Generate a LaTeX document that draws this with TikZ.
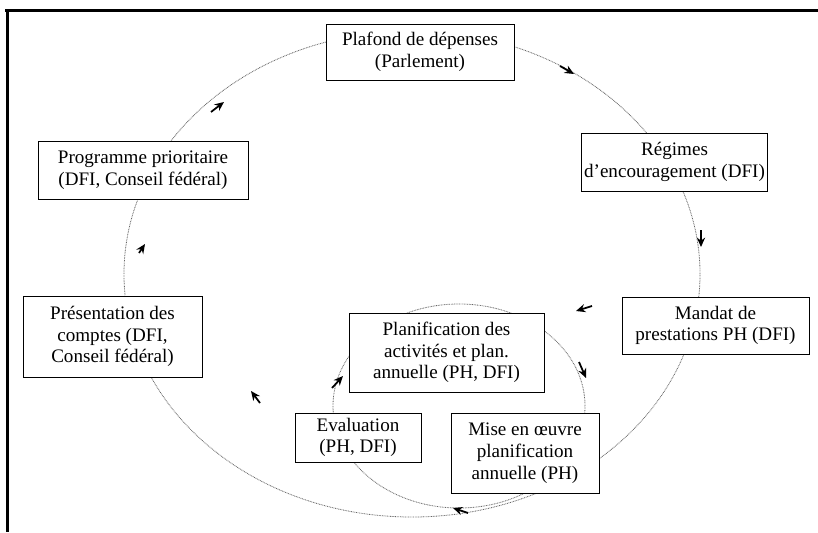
\documentclass[tikz,border=0pt]{standalone}
\usepackage{fontspec}
\setmainfont{Liberation Serif}
\usetikzlibrary{arrows.meta}

\tikzset{
  etape/.style={draw, fill=white, line width=0.8pt, align=center, inner sep=2pt,
    font=\fontsize{16.3}{18.6}\selectfont},
  boucle/.style={black!60, line width=0.7pt, dash pattern=on 0.7pt off 0.7pt},
  fleche/.style={line width=1.5pt, -{Stealth[length=8pt, width=7pt]}}
}

\begin{document}
\begin{tikzpicture}[x=0.03cm, y=-0.03cm]
\useasboundingbox (0,0) rectangle (818,532);

% cadre
\draw[line width=2.6pt] (5,10.5) -- (818,10.5);
\draw[line width=2.6pt] (7.5,9) -- (7.5,532);

% les deux cycles
\draw[boucle] (412,274) ellipse [x radius=8.64cm, y radius=7.29cm];
\draw[boucle] (459,406) ellipse [x radius=3.78cm, y radius=3.06cm];

% etapes du grand cycle
\node (plafond) at (420, 52) [etape, minimum width=5.64cm, minimum height=1.68cm] {Plafond de dépenses\\(Parlement)};
\node (regimes) at (674.5, 162) [etape, minimum width=5.49cm, minimum height=1.74cm] {Régimes\\d’encouragement (DFI)};
\node (mandat) at (715.5, 325.5) [etape, minimum width=5.61cm, minimum height=1.71cm] {Mandat de\\prestations PH (DFI)};
\node (presentation) at (112.5, 336.5) [etape, minimum width=5.37cm, minimum height=2.43cm] {Présentation des\\comptes (DFI,\\Conseil fédéral)};
\node (programme) at (143, 170) [etape, minimum width=6.3cm, minimum height=1.74cm] {Programme prioritaire\\(DFI, Conseil fédéral)};

% etapes du petit cycle
\node (planification) at (446.5, 352.5) [etape, minimum width=5.85cm, minimum height=2.37cm] {Planification des\\activités et plan.\\annuelle (PH, DFI)};
\node (miseenoeuvre) at (525, 453) [etape, minimum width=4.44cm, minimum height=2.4cm] {Mise en œuvre\\planification\\annuelle (PH)};
\node (evaluation) at (358, 437.5) [etape, minimum width=3.78cm, minimum height=1.47cm] {Evaluation\\(PH, DFI)};

% sens de parcours
\foreach \xa/\ya/\xb/\yb in {211/112/224/102, 139/253/145/244, 560/66/574/74,
    701/230/701/247, 592/306/576/311, 579/362/586/378, 260/403/251/391,
    332/388/343/376, 468/513/453/508}
  \draw[fleche] (\xa,\ya) -- (\xb,\yb);

\end{tikzpicture}
\end{document}
